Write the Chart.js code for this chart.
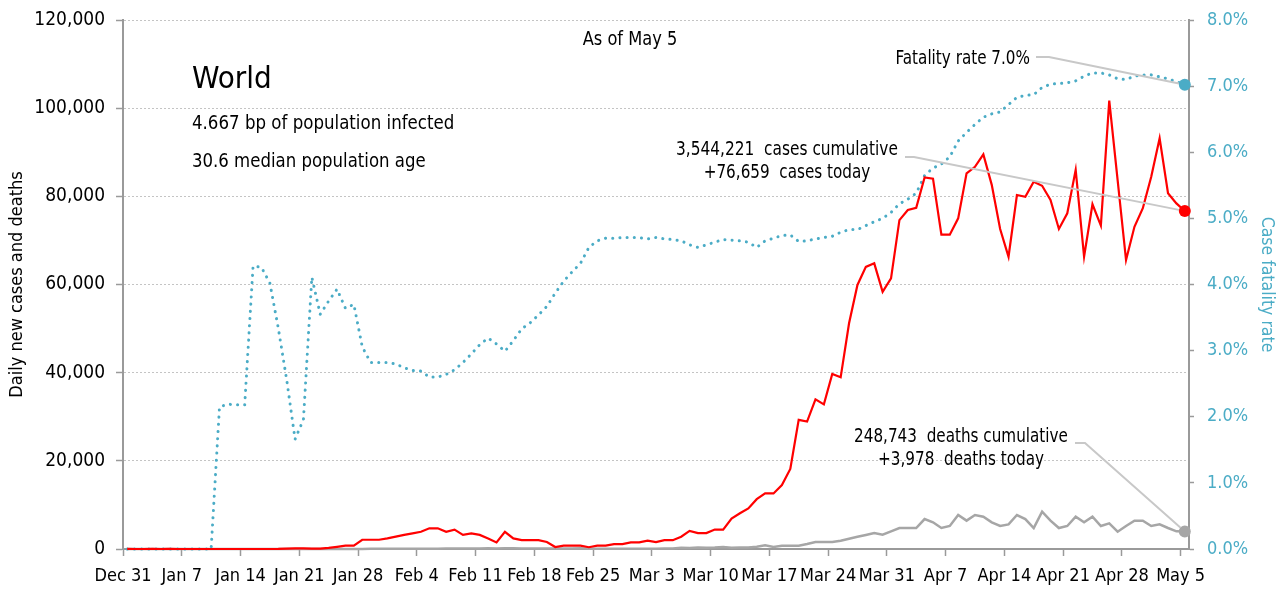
<!DOCTYPE html>
<html><head><meta charset="utf-8">
<script src="https://cdn.jsdelivr.net/npm/chart.js@4"></script>
<style>html,body{margin:0;padding:0;background:#fff}#wrap{width:1283px;height:589px}</style>
</head><body><div id="wrap"><canvas id="c" width="1283" height="589"></canvas></div>
<script>
const FONT = "'Liberation Sans Narrow','Arial Narrow','DejaVu Sans Condensed',sans-serif";

// x tick labels (weekly, starting Dec 31)
const dayLabels = ['Dec 31','Jan 7','Jan 14','Jan 21','Jan 28','Feb 4','Feb 11','Feb 18','Feb 25','Mar 3','Mar 10','Mar 17','Mar 24','Mar 31','Apr 7','Apr 14','Apr 21','Apr 28','May 5'];

// daily new cases, Dec 31 .. May 5
const cases = [
  27,0,0,17,0,15,0,
  0,0,0,0,0,0,0,
  0,0,0,4,17,77,140,
  150,100,100,250,500,750,750,
  2100,2100,2100,2400,2800,3200,3550,
  3900,4700,4700,3900,4400,3200,3550,
  3200,2400,1500,3900,2400,2000,2000,
  2000,1600,450,750,750,750,400,
  750,750,1100,1100,1500,1500,1900,
  1550,2000,2000,2800,4100,3600,3600,
  4400,4400,6900,8100,9200,11300,12600,
  12600,14500,18150,29300,28900,33950,32800,
  39700,38950,51200,59900,64000,64800,58350,
  61400,74600,76900,77400,84300,84000,71300,
  71300,75000,85200,86700,89500,82600,72600,
  66300,80300,79900,83300,82400,79200,72600,
  76150,86000,66300,78200,73350,101700,83600,
  65550,73100,77300,84450,93150,80700,78400,
  76659
];

// daily new deaths
const deaths = [
  0,0,0,0,0,0,0,
  0,0,0,0,1,0,0,
  0,0,0,1,0,3,3,
  3,9,8,16,15,25,25,
  26,38,43,46,45,57,64,
  66,73,73,86,89,97,108,
  97,146,122,143,142,106,98,
  139,115,118,109,97,150,71,
  52,29,44,37,58,67,72,
  84,110,102,260,220,320,300,
  340,440,300,350,350,520,830,
  450,760,760,760,1130,1590,1590,
  1590,1890,2340,2760,3190,3630,3250,
  4000,4760,4760,4760,6800,6050,4760,
  5220,7710,6430,7710,7330,6050,5220,
  5590,7710,6800,4760,8470,6430,4760,
  5220,7330,6050,7330,5220,5820,3930,
  5220,6430,6430,5220,5590,4760,4000,
  3978
];

// case fatality rate, %
const cfr = [
  0,0,0,0,0,0,0,
  0,0,0,0,2.15,2.19,2.18,
  2.18,4.28,4.26,4.02,3.34,2.56,1.66,
  1.96,4.11,3.55,3.75,3.93,3.64,3.70,
  3.06,2.82,2.82,2.82,2.80,2.74,2.70,
  2.69,2.60,2.60,2.64,2.71,2.82,2.95,
  3.09,3.19,3.10,2.99,3.15,3.33,3.42,
  3.54,3.67,3.87,4.05,4.19,4.32,4.56,
  4.66,4.70,4.70,4.71,4.71,4.71,4.69,
  4.71,4.69,4.68,4.66,4.60,4.56,4.60,
  4.64,4.68,4.67,4.66,4.64,4.56,4.66,
  4.70,4.74,4.75,4.65,4.66,4.69,4.71,
  4.73,4.79,4.83,4.83,4.89,4.95,5.00,
  5.09,5.22,5.29,5.38,5.65,5.76,5.82,
  5.93,6.17,6.30,6.42,6.53,6.58,6.61,
  6.72,6.83,6.86,6.87,6.98,7.03,7.04,
  7.05,7.08,7.15,7.20,7.20,7.17,7.11,
  7.10,7.15,7.17,7.17,7.14,7.11,7.07,
  7.02
];

const leftTicks = [0,20000,40000,60000,80000,100000,120000];
const rightTicks = [0,1,2,3,4,5,6,7,8];

const RED = '#ff0000', GREY = '#a6a6a6', CYAN = '#4bacc6', AXIS = '#9a9a9a';

const toPts = arr => arr.map((v, i) => ({x: i + 0.5, y: v}));
const lastDot = c => c.dataIndex === c.dataset.data.length - 1 ? 6 : 0;

const annot = {
  id: 'annot',
  afterDatasetsDraw(chart) {
    const ctx = chart.ctx;
    const endPt = i => { const d = chart.getDatasetMeta(i).data; const p = d[d.length - 1]; return {x: p.x, y: p.y}; };
    ctx.save();
    ctx.strokeStyle = '#c8c8c8';
    ctx.lineWidth = 2;
    const conn = (x0, y0, x1, p) => {
      const dx = p.x - x1, dy = p.y - y0, L = Math.hypot(dx, dy), r = 6;
      ctx.beginPath(); ctx.moveTo(x0, y0); ctx.lineTo(x1, y0);
      ctx.lineTo(p.x - dx / L * r, p.y - dy / L * r); ctx.stroke();
    };
    conn(1036, 57, 1049, endPt(1));
    conn(905, 157, 914, endPt(0));
    conn(1075, 443, 1085, endPt(2));
    ctx.fillStyle = '#000';
    ctx.textBaseline = 'alphabetic';
    const txt = (s, x, y, size, align, sx) => {
      ctx.save();
      ctx.font = `${size}px ${FONT}`;
      ctx.textAlign = align;
      ctx.translate(x, y);
      ctx.scale(sx, 1);
      ctx.fillText(s, 0, 0);
      ctx.restore();
    };
    txt('World', 192, 88, 31, 'left', 1);
    txt('4.667 bp of population infected', 192, 129, 20, 'left', 0.925);
    txt('30.6 median population age', 192, 167, 20, 'left', 0.92);
    txt('As of May 5', 630, 45, 19, 'center', 0.95);
    txt('Fatality rate 7.0%', 1030, 64, 19, 'right', 0.89);
    txt('3,544,221  cases cumulative', 787, 155, 19, 'center', 0.9);
    txt('+76,659  cases today', 787, 178, 19, 'center', 0.89);
    txt('248,743  deaths cumulative', 961, 442, 19, 'center', 0.89);
    txt('+3,978  deaths today', 961, 465, 19, 'center', 0.89);
    ctx.restore();
  }
};

new Chart(document.getElementById('c'), {
  type: 'line',
  data: {
    datasets: [
      {label: 'Cases', data: toPts(cases), yAxisID: 'y', borderColor: RED, backgroundColor: RED,
       borderWidth: 2.2, tension: 0, pointRadius: lastDot, pointHoverRadius: lastDot, pointBorderWidth: 0, clip: false, order: 1},
      {label: 'Case fatality rate', data: toPts(cfr), yAxisID: 'y1', borderColor: CYAN, backgroundColor: CYAN,
       borderWidth: 3, borderDash: [0.1, 7.1], borderCapStyle: 'round', tension: 0,
       pointRadius: lastDot, pointHoverRadius: lastDot, pointBorderWidth: 0, clip: false, order: 2},
      {label: 'Deaths', data: toPts(deaths), yAxisID: 'y', borderColor: GREY, backgroundColor: GREY,
       borderWidth: 2.5, tension: 0, pointRadius: lastDot, pointHoverRadius: lastDot, pointBorderWidth: 0, clip: false, order: 3}
    ]
  },
  options: {
    responsive: false,
    animation: false,
    devicePixelRatio: 1,
    layout: {padding: {top: 20, left: 0, right: 0, bottom: 0}},
    plugins: {legend: {display: false}, tooltip: {enabled: false}},
    scales: {
      x: {
        type: 'linear', min: 0, max: 127,
        afterBuildTicks: s => { s.ticks = dayLabels.map((_, k) => ({value: k * 7})); },
        afterFit: s => { s.height = 40; },
        ticks: {callback: v => dayLabels[Math.round(v / 7)], autoSkip: false, maxRotation: 0, minRotation: 0,
                color: '#000', font: {family: FONT, size: 18}, padding: 10},
        grid: {drawOnChartArea: false, drawTicks: true, tickLength: 7, tickColor: AXIS, tickWidth: 1.5},
        border: {color: AXIS, width: 2}
      },
      y: {
        position: 'left', min: 0, max: 120000,
        afterBuildTicks: s => { s.ticks = leftTicks.map(v => ({value: v})); },
        afterFit: s => { s.width = 123; s.paddingTop = 10; s.paddingBottom = 10; },
        ticks: {callback: v => v.toLocaleString('en-US'), color: '#000', font: {family: FONT, size: 19}, padding: 11},
        grid: {color: '#c4c4c4', lineWidth: 1, drawTicks: true, tickLength: 7, tickColor: AXIS, tickWidth: 1.5, tickBorderDash: []},
        border: {color: AXIS, width: 2, dash: [2, 2]},
        title: {display: true, text: 'Daily new cases and deaths', color: '#000', font: {family: FONT, size: 18}, padding: {top: 7, bottom: 0}}
      },
      y1: {
        position: 'right', min: 0, max: 8,
        afterBuildTicks: s => { s.ticks = rightTicks.map(v => ({value: v})); },
        afterFit: s => { s.width = 94; s.paddingTop = 10; s.paddingBottom = 10; },
        ticks: {callback: v => v.toFixed(1) + '%', color: CYAN, font: {family: FONT, size: 18}, padding: 13},
        grid: {drawOnChartArea: false, drawTicks: true, tickLength: 5, tickColor: AXIS, tickWidth: 1.5},
        border: {color: AXIS, width: 2},
        title: {display: true, text: 'Case fatality rate', color: CYAN, font: {family: FONT, size: 17.5}, padding: {top: 6, bottom: 0}}
      }
    }
  },
  plugins: [annot]
});
</script></body></html>
